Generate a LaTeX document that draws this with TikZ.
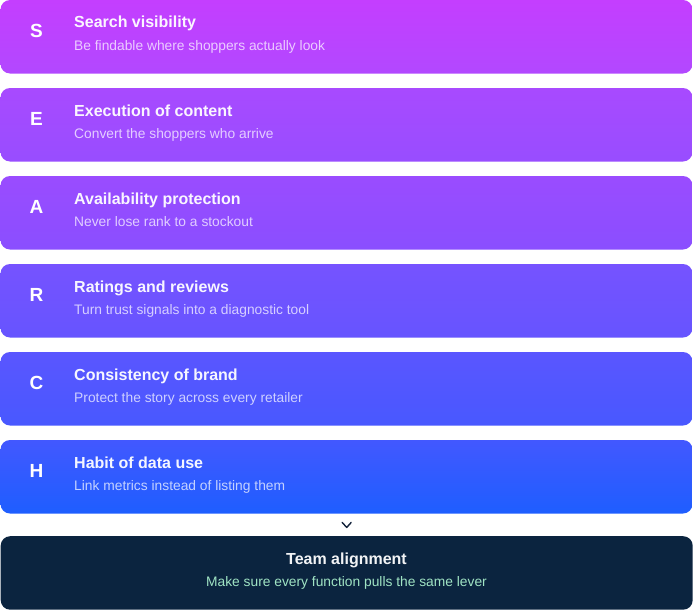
\documentclass[tikz,border=0pt]{standalone}
\usepackage{fontspec}
\setmainfont{Liberation Sans}
\usetikzlibrary{calc}
\definecolor{navy}{RGB}{11,36,63}
\definecolor{mint}{RGB}{160,228,196}
\definecolor{chevcol}{RGB}{20,36,60}
\tikzset{
  card/.style={rounded corners=9.5pt, draw=none},
  letterlbl/.style={text=white, font=\fontsize{19}{22}\selectfont\bfseries, anchor=center, inner sep=0pt},
  titlelbl/.style={text=white, text opacity=0.95, font=\fontsize{16}{19}\selectfont\bfseries, anchor=base west, inner sep=0pt},
  sublbl/.style={text=white, text opacity=0.72, font=\fontsize{13.8}{16}\selectfont, anchor=base west, inner sep=0pt},
  ftitle/.style={text=white, text opacity=0.95, font=\fontsize{16}{19}\selectfont\bfseries, anchor=base, inner sep=0pt},
  fsub/.style={text=mint, font=\fontsize{13.8}{16}\selectfont, anchor=base, inner sep=0pt},
}
\begin{document}
\begin{tikzpicture}[x=1pt,y=-1pt]
\useasboundingbox (0,0) rectangle (693,610);
\foreach \i/\y/\rt/\gt/\rb/\gb/\L/\T/\S in {
  1/0/196/62/178/72/S/Search visibility/Be findable where shoppers actually look,
  2/88/168/74/152/77/E/Execution of content/Convert the shoppers who arrive,
  3/176/154/76/138/78/A/Availability protection/Never lose rank to a stockout,
  4/264/118/83/102/84/R/Ratings and reviews/Turn trust signals into a diagnostic tool,
  5/352/90/86/72/88/C/Consistency of brand/Protect the story across every retailer,
  6/440/66/88/30/94/H/Habit of data use/Link metrics instead of listing them}{
  \path[card, top color={rgb,255:red,\rt;green,\gt;blue,255}, bottom color={rgb,255:red,\rb;green,\gb;blue,255}]
    (0.5,\y) rectangle (692.5,\y+73.5);
  \node[inner sep=0pt, minimum width=692pt, minimum height=73.5pt, anchor=north west] (box\i) at (0.5,\y) {};
  \node[letterlbl] (letter\i) at (36.5,\y+30.5) {\L};
  \node[titlelbl] (title\i) at (74,\y+28) {\T};
  \node[sublbl] (sub\i) at (74,\y+50.5) {\S};
}
\node[card, fill=navy, inner sep=0pt, minimum width=692pt, minimum height=73.5pt, anchor=north west] (team) at (0.5,536) {};
\node[ftitle] (teamtitle) at (346.5,564) {Team alignment};
\node[fsub] (teamsub) at (346.5,586.5) {Make sure every function pulls the same lever};
\coordinate (chev) at ($(box6.south)!0.5!(team.north)$);
\draw[chevcol, line width=1.4pt, line cap=round, line join=round]
  ([xshift=-4.5pt,yshift=2.5pt]chev) -- ([yshift=-2.5pt]chev) -- ([xshift=4.5pt,yshift=2.5pt]chev);
\end{tikzpicture}
\end{document}
